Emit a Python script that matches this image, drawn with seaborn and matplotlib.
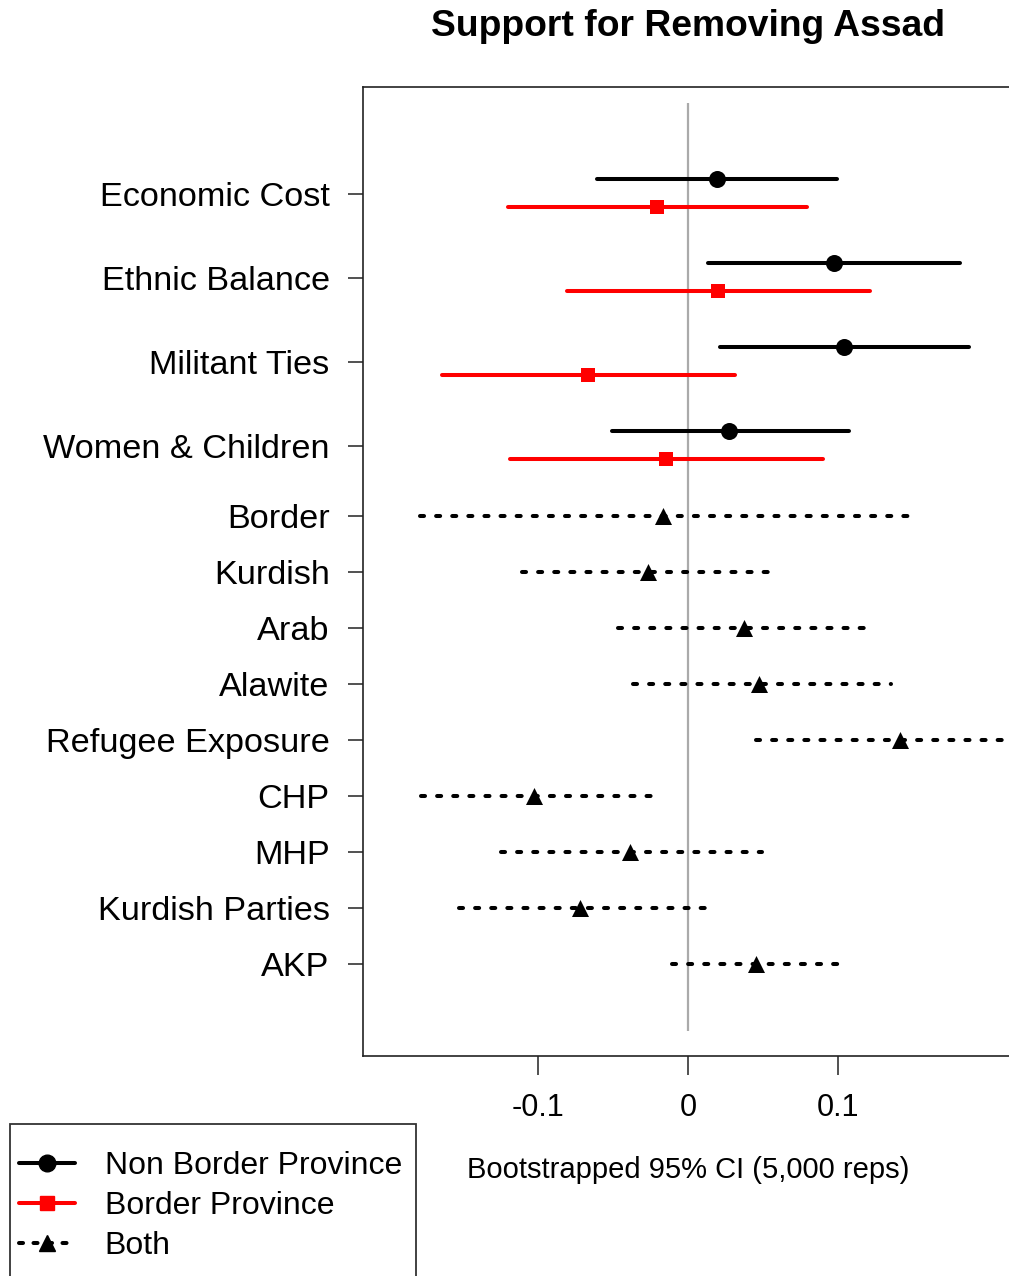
import numpy as np
import pandas as pd
import matplotlib
matplotlib.use("Agg")
import matplotlib.pyplot as plt
from matplotlib.lines import Line2D
from matplotlib.patches import Rectangle
import seaborn as sns

# ---------------- data ----------------
split_cats = ["Economic Cost", "Ethnic Balance", "Militant Ties", "Women & Children"]
nonborder_est = [0.019, 0.097, 0.104, 0.027]
nonborder_lo = [-0.061, 0.013, 0.021, -0.051]
nonborder_hi = [0.099, 0.181, 0.187, 0.107]
border_est = [-0.021, 0.020, -0.067, -0.015]
border_lo = [-0.120, -0.081, -0.164, -0.119]
border_hi = [0.079, 0.121, 0.031, 0.090]

both_cats = ["Border", "Kurdish", "Arab", "Alawite", "Refugee Exposure",
             "CHP", "MHP", "Kurdish Parties", "AKP"]
both_est = [-0.017, -0.027, 0.037, 0.047, 0.141, -0.103, -0.039, -0.072, 0.045]
both_lo = [-0.179, -0.111, -0.047, -0.037, 0.045, -0.178, -0.125, -0.153, -0.011]
both_hi = [0.148, 0.059, 0.124, 0.135, 0.240, -0.025, 0.049, 0.013, 0.104]

xtick_vals = [-0.1, 0, 0.1]
xtick_labels = ["-0.1", "0", "0.1"]

# ---------------- layout ----------------
sns.set_style("ticks")
plt.rcParams["font.family"] = ["Liberation Sans", "DejaVu Sans"]
plt.rcParams["text.color"] = "black"

W, H = 1009, 1276
fig = plt.figure(figsize=(W / 100, H / 100), dpi=100)
ax_l, ax_r, ax_t, ax_b = 363, 1100, 87, 1056
ax = fig.add_axes([ax_l / W, 1 - ax_b / H, (ax_r - ax_l) / W, (ax_b - ax_t) / H])

# y positions (layout)
n_both = len(both_cats)
both_y = np.arange(n_both)[::-1].astype(float)          # Border top ... AKP = 0
split_y = (n_both - 1) + 1.25 + 1.5 * np.arange(len(split_cats))[::-1]
off_up, off_dn = 0.27, -0.23

df_nb = pd.DataFrame({"cat": split_cats, "est": nonborder_est, "lo": nonborder_lo,
                      "hi": nonborder_hi, "y": split_y + off_up})
df_b = pd.DataFrame({"cat": split_cats, "est": border_est, "lo": border_lo,
                     "hi": border_hi, "y": split_y + off_dn})
df_both = pd.DataFrame({"cat": both_cats, "est": both_est, "lo": both_lo,
                        "hi": both_hi, "y": both_y})

xmin = (ax_l - 688) / 1500
xmax = (ax_r - 688) / 1500
ymin = (964 - ax_b) / 56
ymax = (964 - ax_t) / 56
ax.set_xlim(xmin, xmax)
ax.set_ylim(ymin, ymax)

# reference line
ax.vlines(0, (964 - 1031) / 56, (964 - 103) / 56, color="#aaaaaa", lw=1.6, zorder=1)

lw = 2.9
dotted = (0, (1.0, 3.0))
# CI lines
ax.hlines(df_nb["y"], df_nb["lo"], df_nb["hi"], color="black", lw=lw, zorder=2,
          capstyle="round")
ax.hlines(df_b["y"], df_b["lo"], df_b["hi"], color="#ff0000", lw=lw, zorder=2,
          capstyle="round")
for _, r in df_both.iterrows():
    ax.plot([r["lo"], r["hi"]], [r["y"], r["y"]], color="black", lw=lw,
            linestyle=dotted, dash_capstyle="round", zorder=2)

# points
sns.scatterplot(data=df_nb, x="est", y="y", ax=ax, marker="o", s=150,
                color="black", edgecolor="black", linewidth=0, zorder=3, legend=False)
sns.scatterplot(data=df_b, x="est", y="y", ax=ax, marker="s", s=105,
                color="#ff0000", edgecolor="#ff0000", linewidth=0, zorder=3, legend=False)
sns.scatterplot(data=df_both, x="est", y="y", ax=ax, marker="^", s=150,
                color="black", edgecolor="black", linewidth=0, zorder=3, legend=False)

# axes styling
for s in ["left", "top", "bottom"]:
    ax.spines[s].set_visible(True)
    ax.spines[s].set_color("#222222")
    ax.spines[s].set_linewidth(1.2)
ax.spines["right"].set_visible(False)

ax.set_yticks(list(split_y) + list(both_y))
ax.set_yticklabels(split_cats + both_cats, fontsize=24.7, color="black")
ax.set_xticks(xtick_vals)
ax.set_xticklabels(xtick_labels, fontsize=22, color="black")
ax.tick_params(axis="y", length=11, width=1.1, pad=13, color="#222222")
ax.tick_params(axis="x", length=13.5, width=1.1, pad=13, color="#222222")
ax.set_xlabel("Bootstrapped 95% CI (5,000 reps)", fontsize=21, color="black")
ax.xaxis.set_label_coords((688 - ax_l) / (ax_r - ax_l), (ax_b - 1156) / (ax_b - ax_t))
ax.set_ylabel("")

fig.text(688 / W, 1 - 27 / H, "Support for Removing Assad", ha="center", va="center",
         fontsize=26.8, fontweight="bold", color="black")

# legend
handles = [
    Line2D([], [], color="black", lw=lw, marker="o", markersize=12),
    Line2D([], [], color="#ff0000", lw=lw, marker="s", markersize=10),
    Line2D([], [], color="black", lw=lw, marker="^", markersize=12,
           linestyle=(0, (1.0, 2.6)), dash_capstyle="round"),
]
labels = ["Non Border Province", "Border Province", "Both"]
fig.legend(handles, labels, loc="upper left",
           bbox_to_anchor=(17 / W + 0.002, 1 - 1151 / H), frameon=False,
           fontsize=23, handlelength=1.75, handletextpad=0.93,
           labelspacing=0.31, borderpad=0, borderaxespad=0, labelcolor="black")
fig.patches.append(Rectangle((10 / W, -0.05), (416 - 10) / W, (1 - 1124 / H) + 0.05,
                             transform=fig.transFigure, fill=False,
                             edgecolor="#333333", lw=1.3))

fig.savefig("out.png", dpi=100)
